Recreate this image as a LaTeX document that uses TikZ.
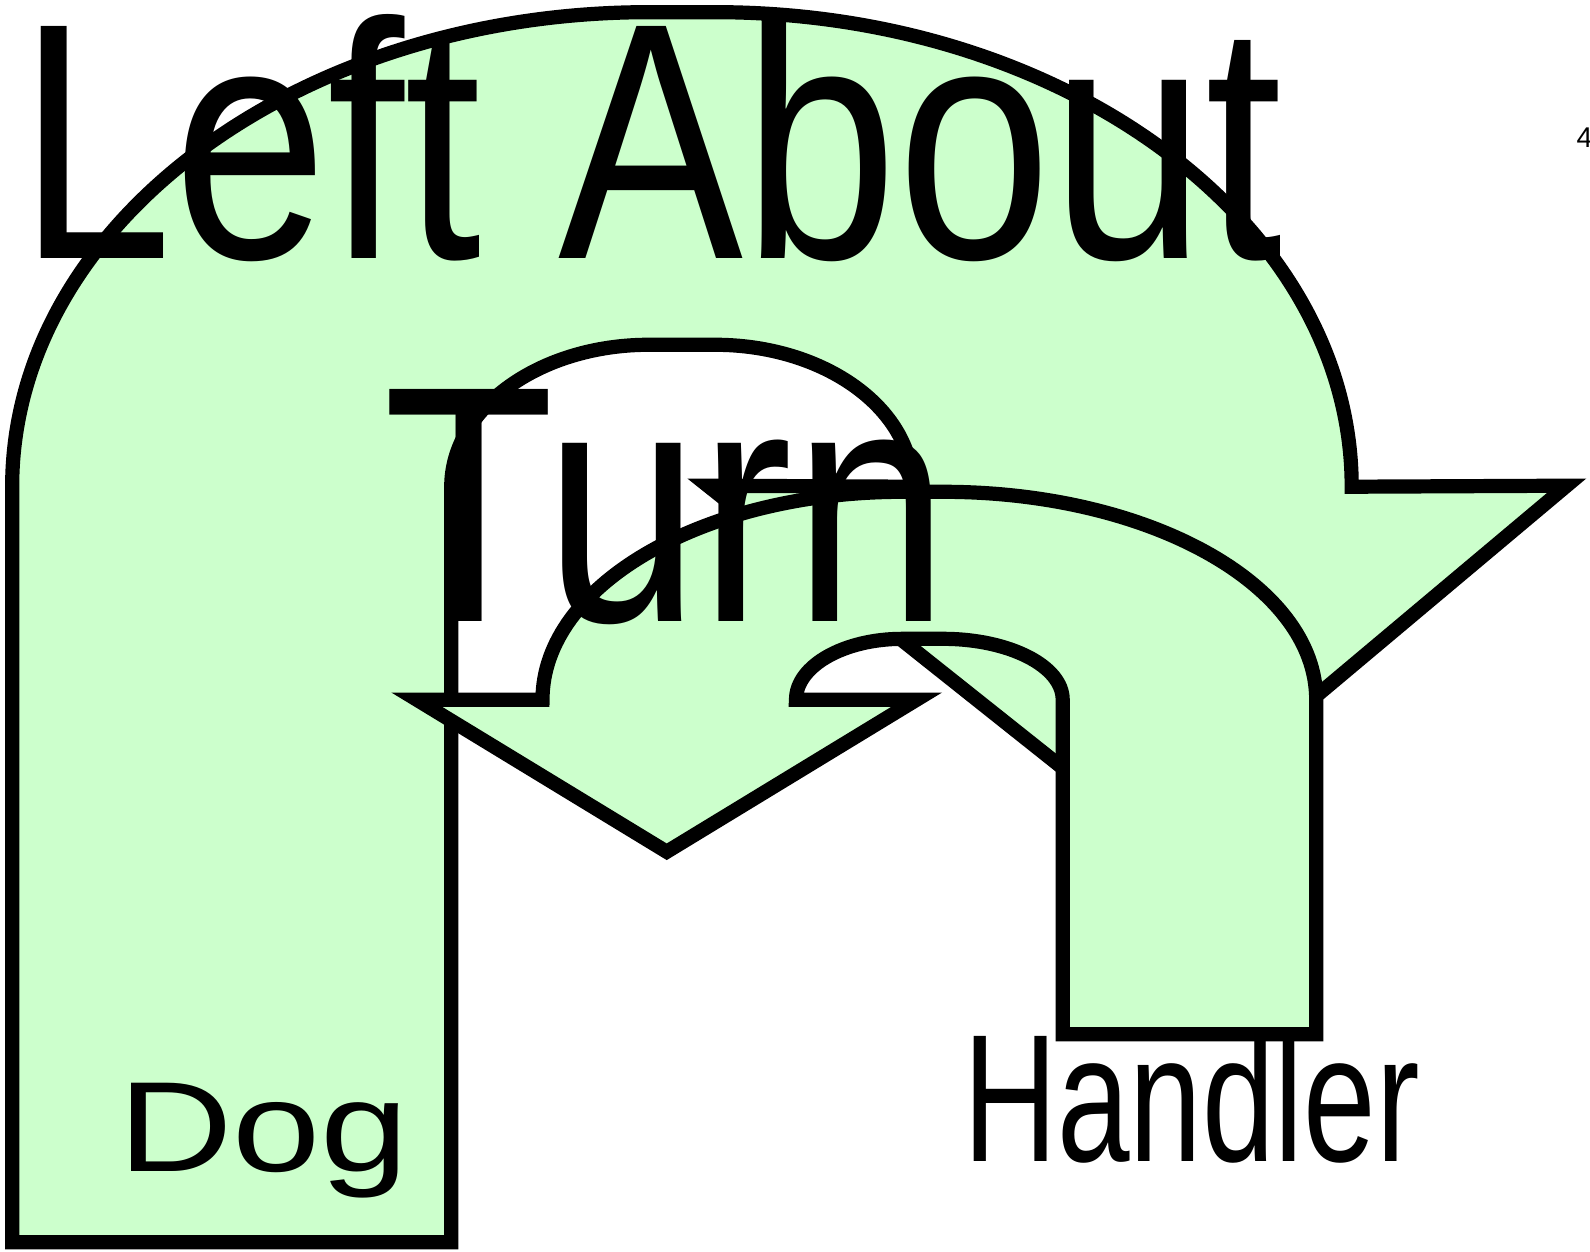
\documentclass[tikz,border=0pt]{standalone}
\usepackage{fontspec}
\setmainfont{Liberation Sans}
\usepackage{graphicx}
\usepackage{tikz}
\definecolor{turnfill}{RGB}{204,255,204}
\newcommand{\bigtxt}[2]{\scalebox{#1}[1]{\fontsize{94.6pt}{104pt}\selectfont #2}}

\begin{document}
\begin{tikzpicture}[
    x=0.01cm, y=-0.01cm,
    turn/.style={draw, fill=turnfill, line width=0.14cm, miter limit=10},
    lbl/.style={inner sep=0pt, anchor=base},
  ]
  \useasboundingbox (0,0) rectangle (1568,1234);

  % ---------------- dog: up, over and down on the right
  \draw[turn] (12,1225) -- (12,480)
       arc[start angle=180, end angle=270, x radius=628, y radius=468] -- (705,12)
       arc[start angle=270, end angle=360, x radius=628, y radius=468] -- (1333,480)
       -- (1545,479) -- (1133,825) -- (698,479) -- (900,480)
       arc[start angle=0, end angle=-90, x radius=195, y radius=140] -- (640,340)
       arc[start angle=270, end angle=180, x radius=195, y radius=140]
       -- (445,1225) -- cycle;

  % ---------------- handler: up, over and down on the left
  \draw[turn] (1048,1020) -- (1048,690)
       arc[start angle=0, end angle=-90, x radius=118, y radius=60] -- (890,630)
       arc[start angle=270, end angle=180, x radius=105, y radius=60]
       -- (904,690) -- (657.5,840) -- (411,690) -- (535,690)
       arc[start angle=180, end angle=270, x radius=355, y radius=205] -- (930,485)
       arc[start angle=270, end angle=360, x radius=368, y radius=205]
       -- (1298,1020) -- cycle;

  % ---------------- texts
  \node[lbl] (title) at (642,255) {\bigtxt{0.822}{Left About}};
  \node[lbl] (turnlbl) at (657,613) {\bigtxt{0.831}{Turn}};
  \node[lbl] (dog) at (260,1155)
       {\scalebox{1.235}[1]{\fontsize{36pt}{42pt}\selectfont Dog}};
  \node[lbl] (handler) at (1175,1145)
       {\scalebox{0.717}[1]{\fontsize{51pt}{58pt}\selectfont Handler}};
  \node[inner sep=0pt, anchor=base west] (slide) at (1554,145)
       {\fontsize{8pt}{10pt}\selectfont 4};
\end{tikzpicture}
\end{document}
